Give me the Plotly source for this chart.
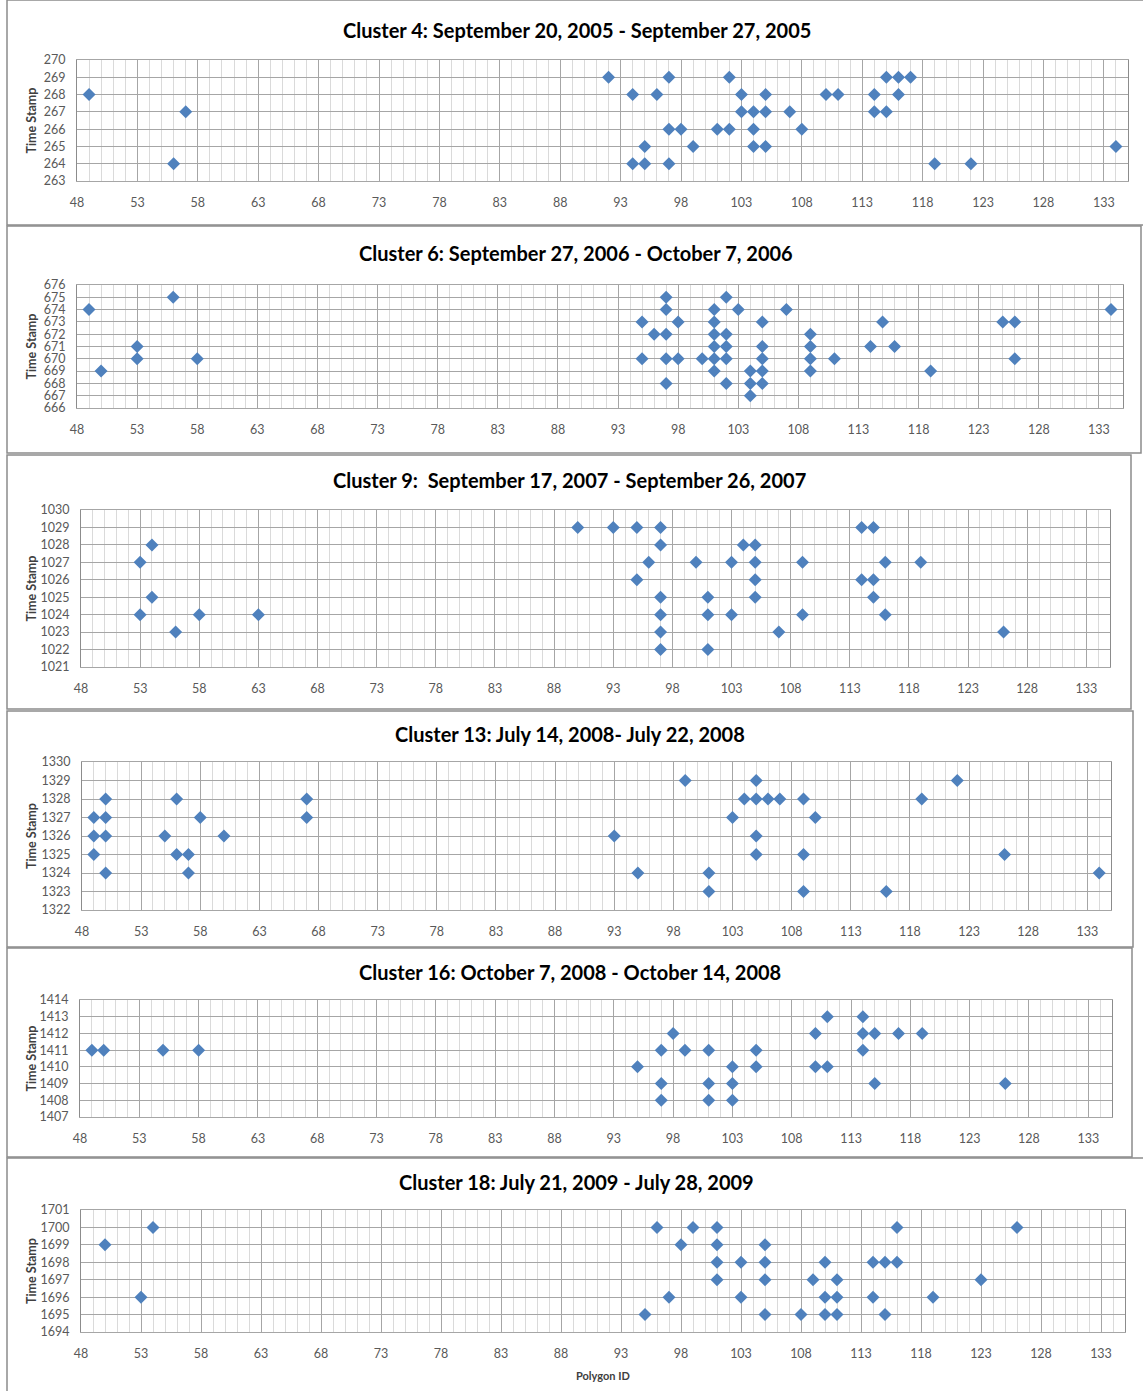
import plotly.graph_objects as go

W, H = 1143, 1391

# ---- data: polygon id vs. time stamp for each cluster ----
titles = [
    "Cluster 4: September 20, 2005 - September 27, 2005",
    "Cluster 6: September 27, 2006 - October 7, 2006",
    "Cluster 9:  September 17, 2007 - September 26, 2007",
    "Cluster 13: July 14, 2008- July 22, 2008",
    "Cluster 16: October 7, 2008 - October 14, 2008",
    "Cluster 18: July 21, 2009 - July 28, 2009",
]

c4_polygon = [49, 57, 56,
              92, 97, 102, 115, 116, 117,
              94, 96, 103, 105, 110, 111, 114, 116,
              103, 104, 105, 107, 114, 115,
              97, 98, 101, 102, 104, 108,
              95, 99, 104, 105, 134,
              94, 95, 97, 119, 122]
c4_stamp = [268, 267, 264,
            269, 269, 269, 269, 269, 269,
            268, 268, 268, 268, 268, 268, 268, 268,
            267, 267, 267, 267, 267, 267,
            266, 266, 266, 266, 266, 266,
            265, 265, 265, 265, 265,
            264, 264, 264, 264, 264]

c6_polygon = [49, 56, 53, 53, 58, 50,
              97, 102,
              97, 101, 103, 107, 134,
              95, 98, 101, 105, 115, 125, 126,
              96, 97, 101, 102, 109,
              101, 102, 105, 109, 114, 116,
              95, 97, 98, 100, 101, 102, 105, 109, 111, 126,
              101, 104, 105, 109, 119,
              97, 102, 104, 105,
              104]
c6_stamp = [674, 675, 671, 670, 670, 669,
            675, 675,
            674, 674, 674, 674, 674,
            673, 673, 673, 673, 673, 673, 673,
            672, 672, 672, 672, 672,
            671, 671, 671, 671, 671, 671,
            670, 670, 670, 670, 670, 670, 670, 670, 670, 670,
            669, 669, 669, 669, 669,
            668, 668, 668, 668,
            667]

c9_polygon = [54, 53, 54, 53, 58, 63, 56,
              90, 93, 95, 97, 114, 115,
              97, 104, 105,
              96, 100, 103, 105, 109, 116, 119,
              95, 105, 114, 115,
              97, 101, 105, 115,
              97, 101, 103, 109, 116,
              97, 107, 126,
              97, 101]
c9_stamp = [1028, 1027, 1025, 1024, 1024, 1024, 1023,
            1029, 1029, 1029, 1029, 1029, 1029,
            1028, 1028, 1028,
            1027, 1027, 1027, 1027, 1027, 1027, 1027,
            1026, 1026, 1026, 1026,
            1025, 1025, 1025, 1025,
            1024, 1024, 1024, 1024, 1024,
            1023, 1023, 1023,
            1022, 1022]

c13_polygon = [99, 105, 122,
               50, 56, 67, 104, 105, 106, 107, 109, 119,
               49, 50, 58, 67, 103, 110,
               49, 50, 55, 60, 93, 105,
               49, 56, 57, 105, 109, 126,
               50, 57, 95, 101, 134,
               101, 109, 116]
c13_stamp = [1329, 1329, 1329,
             1328, 1328, 1328, 1328, 1328, 1328, 1328, 1328, 1328,
             1327, 1327, 1327, 1327, 1327, 1327,
             1326, 1326, 1326, 1326, 1326, 1326,
             1325, 1325, 1325, 1325, 1325, 1325,
             1324, 1324, 1324, 1324, 1324,
             1323, 1323, 1323]

c16_polygon = [111, 114,
               98, 110, 114, 115, 117, 119,
               49, 50, 55, 58, 97, 99, 101, 105, 114,
               95, 103, 105, 110, 111,
               97, 101, 103, 115, 126,
               97, 101, 103]
c16_stamp = [1413, 1413,
             1412, 1412, 1412, 1412, 1412, 1412,
             1411, 1411, 1411, 1411, 1411, 1411, 1411, 1411, 1411,
             1410, 1410, 1410, 1410, 1410,
             1409, 1409, 1409, 1409, 1409,
             1408, 1408, 1408]

c18_polygon = [54, 96, 99, 101, 116, 126,
               50, 98, 101, 105,
               101, 103, 105, 110, 114, 115, 116,
               101, 105, 109, 111, 123,
               53, 97, 103, 110, 111, 114, 119,
               95, 105, 108, 110, 111, 115]
c18_stamp = [1700, 1700, 1700, 1700, 1700, 1700,
             1699, 1699, 1699, 1699,
             1698, 1698, 1698, 1698, 1698, 1698, 1698,
             1697, 1697, 1697, 1697, 1697,
             1696, 1696, 1696, 1696, 1696, 1696, 1696,
             1695, 1695, 1695, 1695, 1695, 1695]

stamp_ranges = [[263, 270], [666, 676], [1021, 1030],
                [1322, 1330], [1407, 1414], [1694, 1701]]
polygon_range = [48, 135]

series = [(c4_polygon, c4_stamp), (c6_polygon, c6_stamp), (c9_polygon, c9_stamp),
          (c13_polygon, c13_stamp), (c16_polygon, c16_stamp), (c18_polygon, c18_stamp)]

# ---- page layout in pixels ----
# plot area: left, right, top, bottom
plot_px = [(77, 1128, 60, 181), (77, 1123, 285, 408), (81, 1110, 510, 667),
           (82, 1111, 762, 910), (80, 1112, 1000, 1117), (81, 1125, 1210, 1332)]
# chart frame: top, bottom, right
frame_px = [(0, 225, 1150), (226, 453, 1141), (455, 709, 1131),
            (711, 947, 1133), (948, 1157, 1132), (1158, 1396, 1150)]
title_px = [(577, 30), (576, 253), (569, 480), (570, 734), (570, 972), (576, 1182)]

MARKER = "#4F81BD"
MAJOR = "#a6a6a6"
MINOR = "#dadada"
FONT = "Lato, Carlito, sans-serif"
TICK_FONT = dict(family=FONT, size=12.5, color="#595959")


def px_x(v):
    return v / W


def px_y(v):
    return 1 - v / H


fig = go.Figure()
layout_axes = {}
shapes = []
annotations = []

for i, ((xs, ys), (x0, x1, y0, y1)) in enumerate(zip(series, plot_px)):
    n = "" if i == 0 else str(i + 1)
    fig.add_trace(go.Scatter(
        x=xs, y=ys, mode="markers",
        marker=dict(symbol="diamond", size=10, color=MARKER, line=dict(width=0)),
        xaxis="x" + n, yaxis="y" + n, showlegend=False, hoverinfo="x+y",
    ))
    layout_axes["xaxis" + n] = dict(
        domain=[px_x(x0), px_x(x1)], anchor="y" + n, automargin=False,
        range=polygon_range, tick0=48, dtick=5,
        showgrid=True, gridcolor=MAJOR, gridwidth=1,
        minor=dict(tick0=48, dtick=1, showgrid=True, gridcolor=MINOR, gridwidth=1),
        zeroline=False, showline=True, linecolor=MAJOR, linewidth=1, mirror=True,
        ticks="", tickfont=TICK_FONT, ticklabelstandoff=10, fixedrange=True,
    )
    layout_axes["yaxis" + n] = dict(
        domain=[px_y(y1), px_y(y0)], anchor="x" + n, automargin=False,
        range=stamp_ranges[i], tick0=stamp_ranges[i][0], dtick=1,
        showgrid=True, gridcolor=MAJOR, gridwidth=1,
        zeroline=False, showline=True, linecolor="#8c8c8c", linewidth=1, mirror=True,
        ticks="", tickfont=TICK_FONT, ticklabelstandoff=8, fixedrange=True,
    )

    ft, fb, fr = frame_px[i]
    shapes.append(dict(type="rect", xref="paper", yref="paper",
                       x0=px_x(7), x1=px_x(fr), y0=px_y(fb), y1=px_y(ft),
                       line=dict(color="#8c8c8c", width=1.5), layer="below"))

    tx, ty = title_px[i]
    annotations.append(dict(text="<b>%s</b>" % titles[i], xref="paper", yref="paper",
                            x=px_x(tx), y=px_y(ty), xanchor="center", yanchor="middle",
                            showarrow=False,
                            font=dict(family=FONT, size=20, color="#000000")))
    annotations.append(dict(text="<b>Time Stamp</b>", xref="paper", yref="paper",
                            x=px_x(31), y=px_y((y0 + y1) / 2), xanchor="center", yanchor="middle",
                            textangle=-90, showarrow=False,
                            font=dict(family=FONT, size=12.5, color="#404040")))

annotations.append(dict(text="<b>Polygon ID</b>", xref="paper", yref="paper",
                        x=px_x(603), y=px_y(1375), xanchor="center", yanchor="middle",
                        showarrow=False,
                        font=dict(family=FONT, size=11, color="#404040")))

fig.update_layout(
    width=W, height=H, autosize=False,
    margin=dict(l=0, r=0, t=0, b=0, pad=0),
    paper_bgcolor="white", plot_bgcolor="white",
    shapes=shapes, annotations=annotations,
    **layout_axes,
)

fig.write_html("out.html")
